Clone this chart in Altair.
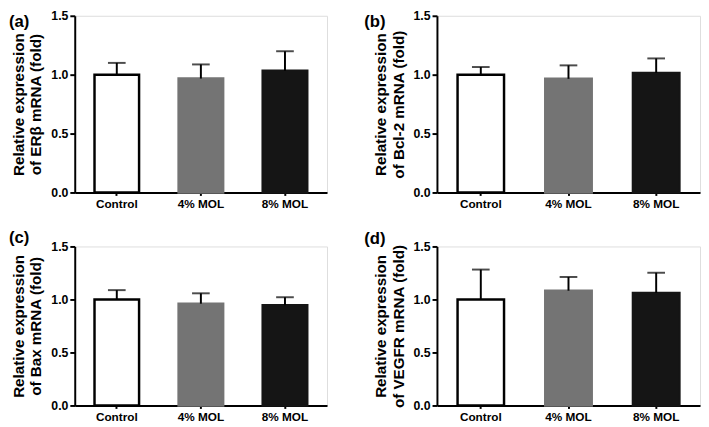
import altair as alt
import pandas as pd

groups = ["Control", "4% MOL", "8% MOL"]
panel_labels = ["(a)", "(b)", "(c)", "(d)"]
titles = [
    ["Relative expression", "of ERβ mRNA (fold)"],
    ["Relative expression", "of Bcl-2 mRNA (fold)"],
    ["Relative expression", "of Bax mRNA (fold)"],
    ["Relative expression", "of VEGFR mRNA (fold)"],
]
means = [
    [1.00, 0.967, 1.033],
    [1.00, 0.965, 1.014],
    [1.00, 0.960, 0.945],
    [1.00, 1.083, 1.061],
]
uppers = [
    [1.100, 1.087, 1.199],
    [1.065, 1.079, 1.138],
    [1.088, 1.058, 1.021],
    [1.282, 1.212, 1.252],
]
fills = ["#ffffff", "#747474", "#151515"]
strokes = ["#000000", "#747474", "#151515"]

FONT = "Liberation Sans"


def panel(i, width, height, lab_dx, lab_dy):
    df = pd.DataFrame({"group": groups, "mean": means[i], "upper": uppers[i]})
    xenc = alt.X(
        "group:N",
        sort=groups,
        scale=alt.Scale(paddingInner=0.47, paddingOuter=0.235),
        axis=alt.Axis(title=None, labelAngle=0, tickSize=3, tickWidth=2,
                      domainWidth=2, labelFontSize=12, labelFontWeight="bold",
                      labelPadding=3, labelColor="#000", domainColor="#000",
                      tickColor="#000", labelFont=FONT),
    )
    yscale = alt.Scale(domain=[0, 1.5], nice=False)
    yaxis = alt.Axis(title=titles[i], values=[0, 0.5, 1.0, 1.5], format=".1f",
                     grid=False, tickSize=5, tickWidth=2, domainWidth=2,
                     labelFontSize=12.5, labelFontWeight="bold", labelFont=FONT,
                     titleFont=FONT, titleFontSize=15.5, titleFontWeight="bold",
                     titleLineHeight=18, titlePadding=7, labelPadding=2,
                     labelColor="#000", titleColor="#000", domainColor="#000",
                     tickColor="#000")
    base = alt.Chart(df)
    bars = base.mark_bar(strokeWidth=2.5).encode(
        x=xenc,
        y=alt.Y("mean:Q", scale=yscale, axis=yaxis),
        fill=alt.Fill("group:N", scale=alt.Scale(domain=groups, range=fills), legend=None),
        stroke=alt.Stroke("group:N", scale=alt.Scale(domain=groups, range=strokes), legend=None),
    )
    stem = base.mark_rule(strokeWidth=2, color="#000").encode(
        x=alt.X("group:N", sort=groups),
        y="mean:Q",
        y2="upper:Q",
    )
    cap = base.mark_tick(size=18, thickness=2, color="#000").encode(
        x=alt.X("group:N", sort=groups),
        y="upper:Q",
    )
    lab = alt.Chart(pd.DataFrame({"t": [panel_labels[i]]})).mark_text(
        font=FONT, fontSize=17, fontWeight="bold", align="left",
        baseline="middle", color="#000",
    ).encode(text="t:N", x=alt.value(lab_dx), y=alt.value(lab_dy))
    return alt.layer(bars, stem, cap, lab).properties(width=width, height=height)


pad = {"top": -3, "left": 0, "right": 0, "bottom": 0}
top = alt.hconcat(panel(0, 257, 180, -67, 6), panel(1, 268, 180, -74, 6), spacing=36)
bottom = alt.hconcat(panel(2, 257, 162, -67, -9), panel(3, 268, 162, -74, -8), spacing=36)
chart = alt.vconcat(top, bottom, spacing=18, padding=pad).configure_view(
    stroke=None
).configure(background="#ffffff", padding=pad)

chart.save("out.html", embed_options={"renderer": "svg", "actions": False})
